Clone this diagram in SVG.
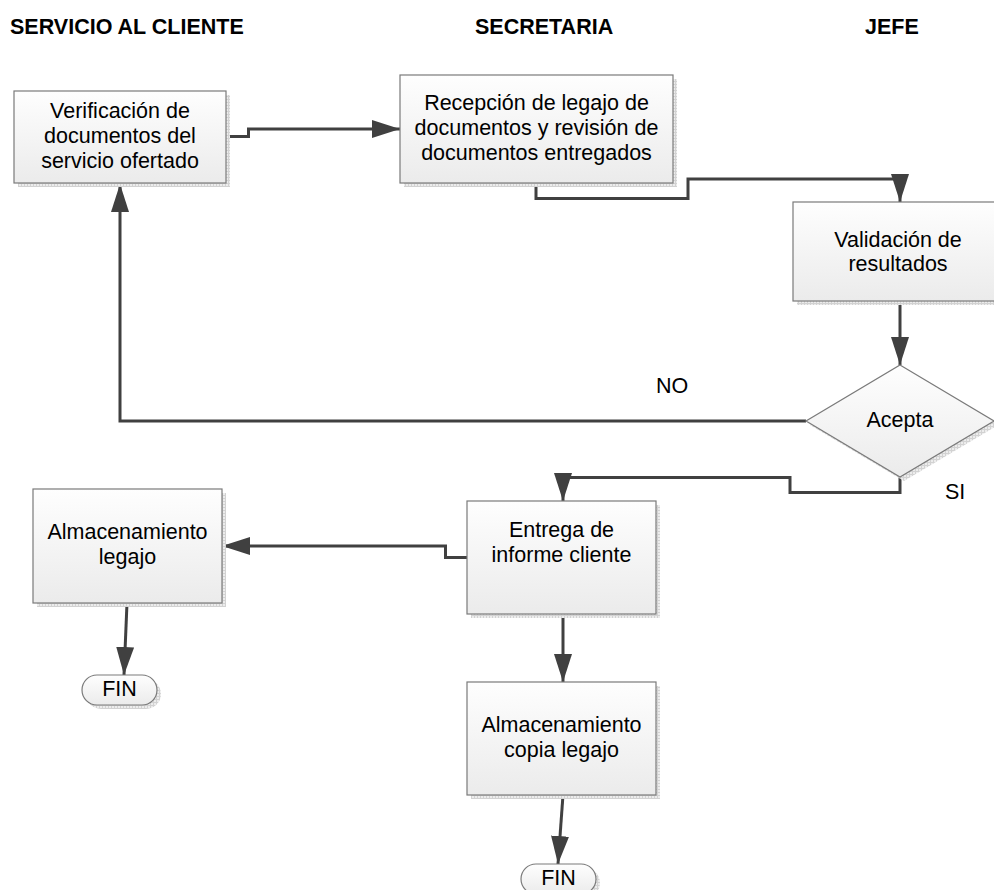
<svg xmlns="http://www.w3.org/2000/svg" width="994" height="890" viewBox="0 0 994 890">
  <defs>
    <linearGradient id="boxFill" x1="0" y1="0" x2="0" y2="1">
      <stop offset="0" stop-color="#fefefe"/>
      <stop offset="1" stop-color="#ebebeb"/>
    </linearGradient>
    <pattern id="shadowGrid" width="3" height="3" patternUnits="userSpaceOnUse">
      <rect width="3" height="3" fill="#ececec"/>
      <path d="M0 0.5H3M0.5 0V3" stroke="#d2d2d2" stroke-width="1"/>
    </pattern>
    <marker id="arrow" markerUnits="userSpaceOnUse" markerWidth="28" markerHeight="18" refX="28" refY="9" orient="auto">
      <path d="M0 0L28 9L0 18Z" fill="#404040"/>
    </marker>
  </defs>
  <style>
    .hdr { font-family: "Liberation Sans", Arial, sans-serif; font-weight: bold; font-size: 21.5px; fill: #000; }
    .lbl { font-family: "Liberation Sans", Arial, sans-serif; font-size: 21.5px; fill: #000; text-anchor: middle; }
    .lane { font-family: "Liberation Sans", Arial, sans-serif; font-size: 21.5px; fill: #000; }
    .shape { fill: url(#boxFill); stroke: #7a7a7a; stroke-width: 1.2; }
    .shadow { fill: url(#shadowGrid); }
    .conn { fill: none; stroke: #404040; stroke-width: 3; }
  </style>

  <rect width="994" height="890" fill="#ffffff"/>

  <!-- lane headings -->
  <text class="hdr" x="10" y="34">SERVICIO AL CLIENTE</text>
  <text class="hdr" x="475" y="34">SECRETARIA</text>
  <text class="hdr" x="865" y="34">JEFE</text>

  <!-- connectors -->
  <g id="connectors">
    <path class="conn" d="M226 136.5H248.5V129H400" marker-end="url(#arrow)"/>
    <path class="conn" d="M536 183V198.5H688V179H900V202" marker-end="url(#arrow)"/>
    <path class="conn" d="M900 301V365" marker-end="url(#arrow)"/>
    <path class="conn" d="M806 421H120V184" marker-end="url(#arrow)"/>
    <path class="conn" d="M900 477V492.5H790V477.5H563V501" marker-end="url(#arrow)"/>
    <path class="conn" d="M467 557.5H445.5V546H222" marker-end="url(#arrow)"/>
    <path class="conn" d="M127 603L124 675" marker-end="url(#arrow)"/>
    <path class="conn" d="M563 614V682" marker-end="url(#arrow)"/>
    <path class="conn" d="M563 795L558 864" marker-end="url(#arrow)"/>
    <text class="lane" x="656" y="393">NO</text>
    <text class="lane" x="945" y="499">SI</text>
  </g>

  <!-- Verificación de documentos -->
  <g id="verificacion">
    <rect class="shadow" x="18" y="95" width="212" height="92"/>
    <rect class="shape" x="14" y="91" width="212" height="92"/>
    <text class="lbl" x="120" y="118">Verificación de</text>
    <text class="lbl" x="120" y="143">documentos del</text>
    <text class="lbl" x="120" y="168">servicio ofertado</text>
  </g>

  <!-- Recepción de legajo -->
  <g id="recepcion">
    <rect class="shadow" x="404" y="79" width="273" height="108"/>
    <rect class="shape" x="400" y="75" width="273" height="108"/>
    <text class="lbl" x="536.5" y="110">Recepción de legajo de</text>
    <text class="lbl" x="536.5" y="135">documentos y revisión de</text>
    <text class="lbl" x="536.5" y="160">documentos entregados</text>
  </g>

  <!-- Validación de resultados -->
  <g id="validacion">
    <rect class="shadow" x="797" y="206" width="214" height="99"/>
    <rect class="shape" x="793" y="202" width="214" height="99"/>
    <text class="lbl" x="898" y="247">Validación de</text>
    <text class="lbl" x="898" y="271">resultados</text>
  </g>

  <!-- Acepta decision -->
  <g id="acepta">
    <path class="shadow" d="M904 369L998 425L904 481L810 425Z"/>
    <path class="shape" d="M900 365L994 421L900 477L806 421Z"/>
    <text class="lbl" x="900" y="427">Acepta</text>
  </g>

  <!-- Almacenamiento legajo -->
  <g id="almacenamiento">
    <rect class="shadow" x="37" y="493" width="189" height="114"/>
    <rect class="shape" x="33" y="489" width="189" height="114"/>
    <text class="lbl" x="127.5" y="539">Almacenamiento</text>
    <text class="lbl" x="127.5" y="564">legajo</text>
  </g>

  <!-- Entrega de informe -->
  <g id="entrega">
    <rect class="shadow" x="471" y="505" width="189" height="113"/>
    <rect class="shape" x="467" y="501" width="189" height="113"/>
    <text class="lbl" x="561.5" y="537">Entrega de</text>
    <text class="lbl" x="561.5" y="562">informe cliente</text>
  </g>

  <!-- Almacenamiento copia legajo -->
  <g id="copia">
    <rect class="shadow" x="471" y="686" width="189" height="113"/>
    <rect class="shape" x="467" y="682" width="189" height="113"/>
    <text class="lbl" x="561.5" y="732">Almacenamiento</text>
    <text class="lbl" x="561.5" y="757">copia legajo</text>
  </g>

  <!-- end terminators -->
  <g id="fin1">
    <rect class="shadow" x="86" y="679" width="75" height="30" rx="15"/>
    <rect class="shape" x="82" y="675" width="75" height="30" rx="15"/>
    <text class="lbl" x="119.5" y="696">FIN</text>
  </g>
  <g id="fin2">
    <rect class="shadow" x="525" y="868" width="75" height="30" rx="15"/>
    <rect class="shape" x="521" y="864" width="75" height="30" rx="15"/>
    <text class="lbl" x="558.5" y="885">FIN</text>
  </g>
</svg>
